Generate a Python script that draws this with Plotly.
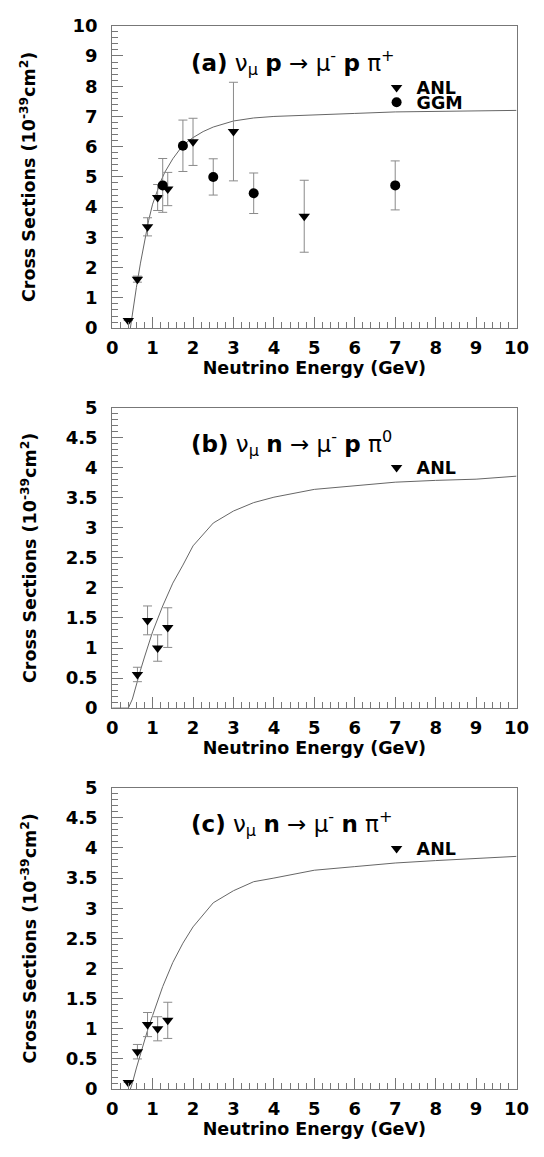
import plotly.graph_objects as go

# ---------------- data ----------------
# Panel (a): nu_mu p -> mu- p pi+
a_curve_E = [0.45, 0.5, 0.6, 0.7, 0.8, 0.9, 1.0, 1.1, 1.2, 1.3, 1.4, 1.5, 1.75, 2.0, 2.25, 2.5, 3.0, 3.5, 4.0, 5.0, 6.0, 7.0, 8.0, 9.0, 10.0]
a_curve_xs = [0.0, 0.5, 1.35, 2.15, 2.9, 3.55, 4.1, 4.5, 4.85, 5.15, 5.4, 5.6, 6.05, 6.3, 6.5, 6.65, 6.85, 6.95, 7.0, 7.06, 7.1, 7.15, 7.17, 7.18, 7.2]
a_anl_E = [0.4, 0.625, 0.875, 1.125, 1.375, 2.0, 3.0, 4.75]
a_anl_xs = [0.25, 1.62, 3.35, 4.32, 4.6, 6.16, 6.5, 3.7]
a_anl_err = [0.0, 0.1, 0.3, 0.43, 0.55, 0.78, 1.63, 1.19]
a_ggm_E = [1.25, 1.75, 2.5, 3.5, 7.0]
a_ggm_xs = [4.72, 6.03, 5.0, 4.46, 4.72]
a_ggm_err = [0.89, 0.85, 0.6, 0.67, 0.81]

# Panel (b): nu_mu n -> mu- p pi0
b_curve_E = [0.0, 0.4, 0.5, 0.6, 0.7, 0.8, 0.9, 1.0, 1.25, 1.5, 1.75, 2.0, 2.5, 3.0, 3.5, 4.0, 5.0, 6.0, 7.0, 8.0, 9.0, 10.0]
b_curve_xs = [0.0, 0.0, 0.15, 0.4, 0.63, 0.85, 1.07, 1.27, 1.7, 2.08, 2.38, 2.7, 3.08, 3.28, 3.42, 3.51, 3.64, 3.7, 3.76, 3.79, 3.81, 3.86]
b_anl_E = [0.625, 0.875, 1.125, 1.375]
b_anl_xs = [0.56, 1.46, 1.0, 1.34]
b_anl_err = [0.12, 0.24, 0.22, 0.33]

# Panel (c): nu_mu n -> mu- n pi+
c_curve_E = [0.45, 0.5, 0.6, 0.7, 0.8, 0.9, 1.0, 1.25, 1.5, 1.75, 2.0, 2.5, 3.0, 3.5, 4.0, 5.0, 6.0, 7.0, 8.0, 9.0, 10.0]
c_curve_xs = [0.0, 0.1, 0.35, 0.58, 0.82, 1.03, 1.22, 1.7, 2.1, 2.42, 2.69, 3.09, 3.29, 3.44, 3.5, 3.63, 3.69, 3.75, 3.79, 3.82, 3.86]
c_anl_E = [0.4, 0.625, 0.875, 1.125, 1.375]
c_anl_xs = [0.11, 0.62, 1.07, 1.0, 1.14]
c_anl_err = [0.0, 0.12, 0.2, 0.2, 0.3]

titles = [
    "<b>(a)</b> ν<sub>μ</sub> <b>p</b> → μ<sup>-</sup> <b>p</b> π<sup>+</sup>",
    "<b>(b)</b> ν<sub>μ</sub> <b>n</b> → μ<sup>-</sup> <b>p</b> π<sup>0</sup>",
    "<b>(c)</b> ν<sub>μ</sub> <b>n</b> → μ<sup>-</sup> <b>n</b> π<sup>+</sup>",
]
x_title = "Neutrino Energy (GeV)"
y_title = "Cross Sections (10<sup>-39</sup>cm<sup>2</sup>)"

# ---------------- style ----------------
W, H = 544, 1157
FONT = "DejaVu Sans, Liberation Sans, Arial, sans-serif"
AX = "#777777"
ERR = "#8a8a8a"
CURVE = "#666666"

x_dom = [110 / W, 529 / W]
panels_px = [(15, 323), (404, 710), (791, 1098)]  # top, bottom in pixels
y_doms = [[1 - b / H, 1 - t / H] for t, b in panels_px]

fig = go.Figure()

def add_panel(idx, curveE, curveY, anl, ggm=None):
    xa = "x" if idx == 0 else f"x{idx+1}"
    ya = "y" if idx == 0 else f"y{idx+1}"
    lg = "legend" if idx == 0 else f"legend{idx+1}"
    fig.add_trace(go.Scatter(x=curveE, y=curveY, mode="lines",
                             line=dict(color=CURVE, width=1), showlegend=False,
                             xaxis=xa, yaxis=ya, hoverinfo="skip"))
    E, v, e = anl
    fig.add_trace(go.Scatter(x=E, y=v, mode="markers", name="<b>ANL</b>",
                             marker=dict(symbol="triangle-down", size=10, color="black"),
                             error_y=dict(type="data", array=e, color=ERR, thickness=1, width=4.5),
                             xaxis=xa, yaxis=ya, legend=lg))
    if ggm is not None:
        E, v, e = ggm
        fig.add_trace(go.Scatter(x=E, y=v, mode="markers", name="<b>GGM</b>",
                                 marker=dict(symbol="circle", size=10, color="black"),
                                 error_y=dict(type="data", array=e, color=ERR, thickness=1, width=4.5),
                                 xaxis=xa, yaxis=ya, legend="legend4"))

add_panel(0, a_curve_E, a_curve_xs, (a_anl_E, a_anl_xs, a_anl_err), (a_ggm_E, a_ggm_xs, a_ggm_err))
add_panel(1, b_curve_E, b_curve_xs, (b_anl_E, b_anl_xs, b_anl_err))
add_panel(2, c_curve_E, c_curve_xs, (c_anl_E, c_anl_xs, c_anl_err))

tickfont = dict(family=FONT, size=18, color="black", weight="bold")
titlefont = dict(family=FONT, size=17.5, color="black", weight="bold")

layout = dict(width=W, height=H, margin=dict(l=0, r=0, t=0, b=0),
              paper_bgcolor="white", plot_bgcolor="white",
              font=dict(family=FONT, color="black"))

yranges = [[0, 10], [0, 5], [0, 5]]
ydticks = [1, 0.5, 0.5]
yminor = [0.2, 0.1, 0.1]
ytitle_standoff = [32, 24, 24]

for i in range(3):
    sx = "xaxis" if i == 0 else f"xaxis{i+1}"
    sy = "yaxis" if i == 0 else f"yaxis{i+1}"
    ya = "y" if i == 0 else f"y{i+1}"
    xa = "x" if i == 0 else f"x{i+1}"
    layout[sx] = dict(domain=x_dom, anchor=ya, range=[0, 10], dtick=1, tick0=0,
                      ticks="inside", ticklen=11, tickcolor=AX, tickwidth=1,
                      minor=dict(dtick=0.2, ticks="inside", ticklen=6, tickcolor=AX, tickwidth=1),
                      showline=True, linecolor=AX, linewidth=1, mirror=True,
                      showgrid=False, zeroline=False, tickfont=tickfont,
                      ticklabelstandoff=3,
                      title=dict(text=x_title, font=titlefont, standoff=5))
    layout[sy] = dict(domain=y_doms[i], anchor=xa, range=yranges[i], dtick=ydticks[i], tick0=0,
                      ticks="inside", ticklen=11, tickcolor=AX, tickwidth=1,
                      minor=dict(dtick=yminor[i], ticks="inside", ticklen=6, tickcolor=AX, tickwidth=1),
                      showline=True, linecolor=AX, linewidth=1, mirror=True,
                      showgrid=False, zeroline=False, tickfont=tickfont,
                      ticklabelstandoff=10,
                      title=dict(text=y_title, font=titlefont, standoff=ytitle_standoff[i]))

# one legend box per entry so that entries can sit as close as in the reference
legend_centers = {"legend": 78, "legend4": 93, "legend2": 465, "legend3": 853}
for name, cy in legend_centers.items():
    layout[name] = dict(x=384 / W, y=1 - cy / H, xanchor="left", yanchor="middle",
                        bgcolor="rgba(0,0,0,0)", borderwidth=0,
                        font=dict(family=FONT, size=17.5, color="black"),
                        tracegroupgap=0, itemclick=False)

fig.update_layout(**layout)

for i, t in enumerate(titles):
    ya = "y" if i == 0 else f"y{i+1}"
    xa = "x" if i == 0 else f"x{i+1}"
    top, bot = panels_px[i]
    fig.add_annotation(text=t, xref=f"{xa} domain", yref=f"{ya} domain",
                       x=(190 - 110) / 419, y=1 - 37 / (bot - top), xanchor="left", yanchor="middle",
                       showarrow=False, font=dict(family=FONT, size=23, color="black"))

fig.write_html("out.html", config={"displayModeBar": False},
               post_script="document.body.style.margin='0';document.body.style.padding='0';document.documentElement.style.overflow='hidden';")
